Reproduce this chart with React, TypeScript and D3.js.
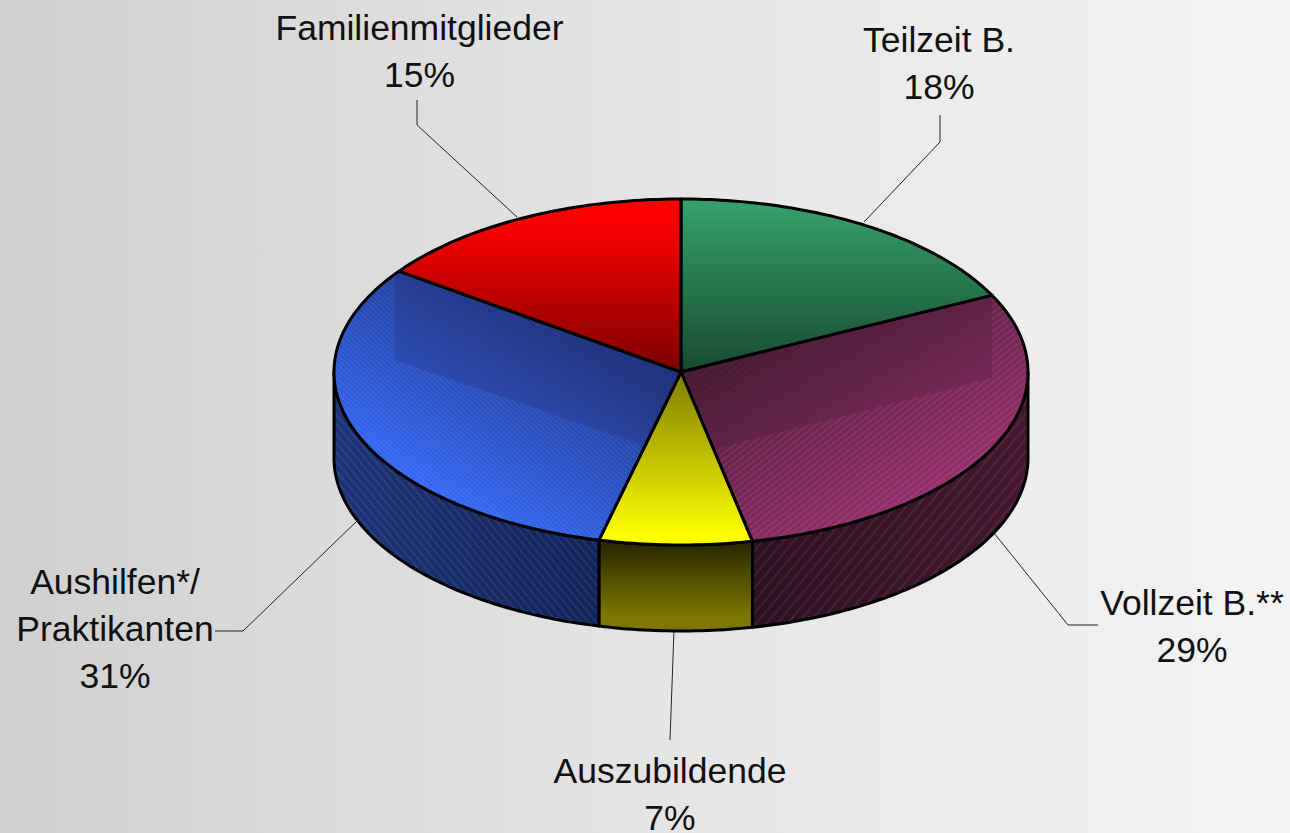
import React from "react";
import * as d3 from "d3";

const categories = ["Teilzeit B.", "Vollzeit B.**", "Auszubildende", "Aushilfen*/ Praktikanten", "Familienmitglieder"];
const values = [17.7, 29.0, 7.1, 31.1, 15.1];
const labelLines = [["Teilzeit B.", "18%"], ["Vollzeit B.**", "29%"], ["Auszubildende", "7%"], ["Aushilfen*/", "Praktikanten", "31%"], ["Familienmitglieder", "15%"]];
const labelAnchors = [[939, 52], [1192, 615], [670, 783], [115, 594], [419.5, 40]];
const leaderLines = [
  [[864, 222], [940, 142], [940, 115]],
  [[994, 533], [1068, 625], [1098, 625]],
  [[674, 630], [670, 740]],
  [[357, 521], [243, 631], [215, 631]],
  [[517, 217], [417, 125], [417, 100]],
];
const topStops = [["#36a26c", "#174a2f"], ["#4a1b36", "#96306c"], ["#7e7c00", "#ffff00"], ["#1b3282", "#3569f8"], ["#ff0000", "#7c0000"]];
const sideYellow = ["#2c2900", "#7c7800"];
const sidePurple = ["#2e1022", "#45182f"];
const sideBlue = ["#1e3478", "#13245a"];

const W = 1290, H = 833;
const cx = 681, cy = 372, rx = 347, ry = 173, depth = 86;

const px = (a: number) => cx + rx * Math.sin(a);
const py = (a: number) => cy - ry * Math.cos(a);
const arcs = d3.pie<number>().sort(null).startAngle(0).endAngle(2 * Math.PI)(values);
const line = d3.line();
const samples = (a0: number, a1: number) => {
  const n = Math.max(2, Math.ceil((a1 - a0) * 60));
  return d3.range(n + 1).map((i) => a0 + ((a1 - a0) * i) / n);
};
const topPath = (a0: number, a1: number) =>
  line([[cx, cy], ...samples(a0, a1).map((a) => [px(a), py(a)] as [number, number])])! + "Z";
const sidePath = (a0: number, a1: number) => {
  const s = samples(a0, a1);
  return line([
    ...s.map((a) => [px(a), py(a)] as [number, number]),
    ...s.slice().reverse().map((a) => [px(a), py(a) + depth] as [number, number]),
  ])! + "Z";
};
const frontClip = (a0: number, a1: number): [number, number] | null => {
  const l = Math.max(a0, Math.PI / 2), h = Math.min(a1, (3 * Math.PI) / 2);
  return l < h ? [l, h] : null;
};
const topHatch: Record<number, number> = { 1: -38, 3: 42 };
const topGap: Record<number, number> = { 1: 5, 3: 3.6 };
const sideHatch: Record<number, number> = { 1: -50, 3: 50 };
const sideGap: Record<number, number> = { 1: 8, 3: 6 };
const boxes: Record<number, [number, number][]> = {
  1: [[992, 200], [600, 200], [600, 478], [992, 378]],
  3: [[395, 200], [760, 200], [760, 485], [395, 360]],
};
const boxLine: Record<number, string> = { 1: "#2a0a20", 3: "#2a1a50" };

const Pattern = ({ id, angle, gap, color, op }: { id: string; angle: number; gap: number; color: string; op: number }) => (
  <pattern id={id} patternUnits="userSpaceOnUse" width={gap} height={gap} patternTransform={`rotate(${angle})`}>
    <line x1={0} y1={gap / 2} x2={gap} y2={gap / 2} stroke={color} strokeOpacity={op} strokeWidth={0.8} />
  </pattern>
);

export default function App() {
  return (
    <svg width={W} height={H} style={{ position: "fixed", left: 0, top: 0 }} fontFamily="'Liberation Sans', Arial, sans-serif">
      <defs>
        <linearGradient id="bg" gradientUnits="userSpaceOnUse" x1={0} y1={0} x2={W} y2={0}>
          <stop offset="0" stopColor="#cfcfcf" />
          <stop offset="0.23" stopColor="#dadada" />
          <stop offset="0.55" stopColor="#e6e6e6" />
          <stop offset="1" stopColor="#f4f4f4" />
        </linearGradient>
        <linearGradient id="top0" gradientUnits="userSpaceOnUse" x1={0} x2={0} y1={cy - ry} y2={cy}>
          <stop offset="0" stopColor={topStops[0][0]} /><stop offset="1" stopColor={topStops[0][1]} />
        </linearGradient>
        <linearGradient id="top1" gradientUnits="userSpaceOnUse" x1={cx} y1={cy} x2={cx + 115} y2={cy + 200}>
          <stop offset="0" stopColor={topStops[1][0]} /><stop offset="1" stopColor={topStops[1][1]} />
        </linearGradient>
        <linearGradient id="top2" gradientUnits="userSpaceOnUse" x1={0} x2={0} y1={cy} y2={cy + ry - 8}>
          <stop offset="0" stopColor={topStops[2][0]} /><stop offset="1" stopColor={topStops[2][1]} />
        </linearGradient>
        <linearGradient id="top3" gradientUnits="userSpaceOnUse" x1={cx} y1={cy} x2={cx - 118} y2={cy + 204}>
          <stop offset="0" stopColor={topStops[3][0]} /><stop offset="1" stopColor={topStops[3][1]} />
        </linearGradient>
        <linearGradient id="top4" gradientUnits="userSpaceOnUse" x1={0} x2={0} y1={cy - ry} y2={cy}>
          <stop offset="0" stopColor={topStops[4][0]} /><stop offset="0.12" stopColor={topStops[4][0]} /><stop offset="1" stopColor={topStops[4][1]} />
        </linearGradient>
        <linearGradient id="side1" gradientUnits="userSpaceOnUse" x1={752} x2={1030} y1={0} y2={0}>
          <stop offset="0" stopColor={sidePurple[0]} /><stop offset="1" stopColor={sidePurple[1]} />
        </linearGradient>
        <linearGradient id="side2" gradientUnits="userSpaceOnUse" x1={0} x2={0} y1={cy + ry} y2={cy + ry + depth - 15}>
          <stop offset="0" stopColor={sideYellow[0]} /><stop offset="1" stopColor={sideYellow[1]} />
        </linearGradient>
        <linearGradient id="side3" gradientUnits="userSpaceOnUse" x1={335} x2={598} y1={0} y2={0}>
          <stop offset="0" stopColor={sideBlue[0]} /><stop offset="1" stopColor={sideBlue[1]} />
        </linearGradient>
        {Object.keys(topHatch).map((k) => (
          <React.Fragment key={k}>
            <Pattern id={`hatchTop${k}`} angle={topHatch[+k]} gap={topGap[+k]} color="#fff" op={0.13} />
            <Pattern id={`hatchBox${k}`} angle={topHatch[+k]} gap={topGap[+k]} color={boxLine[+k]} op={0.45} />
            <Pattern id={`hatchSide${k}`} angle={sideHatch[+k]} gap={sideGap[+k]} color="#fff" op={0.17} />
          </React.Fragment>
        ))}
        {arcs.map((d, i) => (
          <clipPath key={i} id={`clip${i}`}><path d={topPath(d.startAngle, d.endAngle)} /></clipPath>
        ))}
      </defs>
      <rect width={W} height={H} fill="url(#bg)" />

      {leaderLines.map((l, i) => (
        <path key={i} d={line(l as [number, number][])!} fill="none" stroke="#222" strokeWidth={1} />
      ))}

      {arcs.map((d, i) => {
        const f = frontClip(d.startAngle, d.endAngle);
        if (!f) return null;
        const p = sidePath(f[0], f[1]);
        return (
          <g key={i}>
            <path d={p} fill={`url(#side${i})`} />
            {sideHatch[i] !== undefined && <path d={p} fill={`url(#hatchSide${i})`} />}
            <path d={p} fill="none" stroke="#000" strokeWidth={3} strokeLinejoin="round" />
          </g>
        );
      })}

      {arcs.map((d, i) => {
        const p = topPath(d.startAngle, d.endAngle);
        return (
          <g key={i}>
            <path d={p} fill={`url(#top${i})`} />
            {topHatch[i] !== undefined && <path d={p} fill={`url(#hatchTop${i})`} />}
            {boxes[i] && (
              <g clipPath={`url(#clip${i})`}>
                <path d={line(boxes[i])! + "Z"} fill="#000" fillOpacity={0.05} />
                <path d={line(boxes[i])! + "Z"} fill={`url(#hatchBox${i})`} />
              </g>
            )}
            <path d={p} fill="none" stroke="#000" strokeWidth={3} strokeLinejoin="round" />
          </g>
        );
      })}

      <g fontSize={35.5} fill="#111" textAnchor="middle">
        {labelLines.map((ls, i) => (
          <text key={categories[i]} x={labelAnchors[i][0]} y={labelAnchors[i][1]}>
            {ls.map((t, j) => (
              <tspan key={j} x={labelAnchors[i][0]} dy={j === 0 ? 0 : 47}>{t}</tspan>
            ))}
          </text>
        ))}
      </g>
    </svg>
  );
}
